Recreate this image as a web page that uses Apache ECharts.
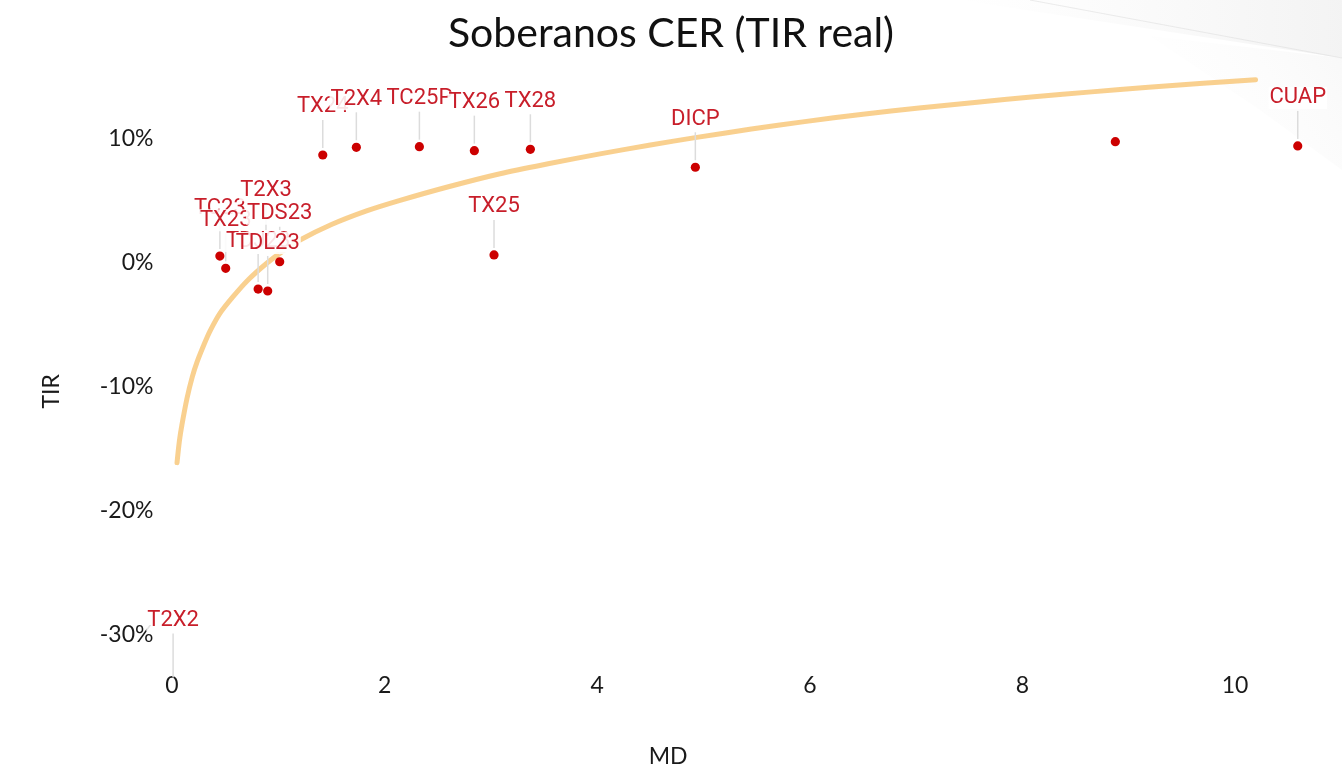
<!DOCTYPE html>
<html>
<head>
<meta charset="utf-8">
<script src="https://cdn.jsdelivr.net/npm/echarts@6/dist/echarts.min.js"></script>
<style>
html,body{margin:0;padding:0;background:#fff;}
#chart{width:1342px;height:768px;}
</style>
</head>
<body>
<div id="chart"></div>
<script>
// ---- data ----
const bondNames = ['T2X2','TC23','TX23','TDJ23','T2X3','TDL23','TDS23','TX24','T2X4','TC25P','TX25','TX26','TX28','DICP','','CUAP'];
const bondMD    = [0.01, 0.45, 0.505, 0.81, 0.884, 0.90, 1.013, 1.418, 1.734, 2.327, 3.029, 2.844, 3.371, 4.923, 8.874, 10.59];
const bondTIR   = [-0.34, 0.0056, -0.0043, -0.021, 0.020, -0.0226, 0.001, 0.0871, 0.0933, 0.0938, 0.0065, 0.0906, 0.0917, 0.0772, 0.0978, 0.0944];

// trend curve (MD, TIR)
const curveMD  = [0.047, 0.070, 0.094, 0.141, 0.190, 0.235, 0.300, 0.357, 0.452, 0.574, 0.715, 0.894, 1.050, 1.204, 1.500, 1.830, 2.145, 2.600, 3.086, 3.550, 4.026, 4.500, 4.936, 5.450, 5.951, 6.500, 7.027, 7.550, 8.109, 8.650, 9.186, 9.700, 10.193];
const curveTIR = [-0.161, -0.143, -0.130, -0.109, -0.092, -0.080, -0.066, -0.055, -0.0405, -0.0272, -0.0137, 0.0, 0.010, 0.0185, 0.031, 0.042, 0.0505, 0.0615, 0.072, 0.0802, 0.088, 0.0952, 0.1013, 0.108, 0.114, 0.120, 0.125, 0.1295, 0.134, 0.138, 0.1417, 0.145, 0.1478];

const xTicks = [0, 2, 4, 6, 8, 10];
const yTicks = [-0.3, -0.2, -0.1, 0, 0.1];

const titleText = 'Soberanos CER (TIR real)';
const xName = 'MD';
const yName = 'TIR';

// ---- chart ----
const chart = echarts.init(document.getElementById('chart'));

const bondData = bondMD.map((m, i) => [m, bondTIR[i]]);
const curveData = curveMD.map((m, i) => [m, curveTIR[i]]);

function renderBond(params, api) {
  const idx = params.dataIndex;
  const p = api.coord([api.value(0), api.value(1)]);
  const cs = params.coordSys;
  const bottom = cs.y + cs.height;
  const inside = p[1] <= bottom + 0.5 && p[1] >= cs.y - 0.5;
  const children = [];
  if (inside) {
    children.push({type: 'circle', shape: {cx: p[0], cy: p[1], r: 4.6}, style: {fill: '#cc0000'}, z2: 1});
  }
  const name = bondNames[idx];
  if (name) {
    const ly = Math.min(p[1], bottom) - 48;
    children.push({type: 'line', shape: {x1: p[0], y1: ly + 13, x2: p[0], y2: p[1] - 7},
      style: {stroke: '#dcdcdc', lineWidth: 1.5}, z2: 2});
    children.push({type: 'text', x: p[0], y: ly, z2: 100 + idx,
      style: {text: name, fill: '#c81e2a', fontSize: 22, fontFamily: 'Roboto',
        align: 'center', verticalAlign: 'middle',
        backgroundColor: 'rgba(255,255,255,0.88)', padding: [0, 1]}});
  }
  return {type: 'group', children};
}

const axisFont = {fontFamily: 'Lato', fontSize: 23, color: '#1a1a1a'};

chart.setOption({
  animation: false,
  backgroundColor: '#ffffff',
  title: {
    text: titleText, left: 'center', top: 8,
    textStyle: {fontFamily: 'Lato', fontSize: 41, fontWeight: 'normal', color: '#111'}
  },
  graphic: [
    {type: 'polygon', silent: true, z: -10,
      shape: {points: [[960, 0], [1342, 0], [1342, 58]]},
      style: {fill: new echarts.graphic.LinearGradient(0, 0, 1, 0, [
        {offset: 0, color: 'rgba(246,246,246,0)'}, {offset: 1, color: 'rgba(242,242,242,0.9)'}])}},
    {type: 'polygon', silent: true, z: -10,
      shape: {points: [[1150, 36], [1342, 58], [1342, 170], [1260, 110]]},
      style: {fill: new echarts.graphic.LinearGradient(1, 0, 0, 1, [
        {offset: 0, color: 'rgba(246,246,246,0.8)'}, {offset: 1, color: 'rgba(255,255,255,0)'}])}},
    {type: 'line', silent: true, z: -9,
      shape: {x1: 1030, y1: 0, x2: 1342, y2: 58},
      style: {stroke: 'rgba(220,220,220,0.55)', lineWidth: 1}}
  ],
  grid: {left: 161.4, right: 11.3, top: 64, bottom: 99.5, containLabel: false, outerBoundsMode: 'none'},
  xAxis: {
    type: 'value', min: -0.1, max: 10.9,
    name: xName, nameLocation: 'middle', nameGap: 77,
    nameTextStyle: Object.assign({}, axisFont, {padding: [0, 156, 0, 0]}),
    axisLine: {show: false}, axisTick: {show: false}, splitLine: {show: false},
    axisLabel: Object.assign({}, axisFont, {customValues: xTicks, margin: 6, formatter: v => String(Math.round(v))})
  },
  yAxis: {
    type: 'value', min: -0.32702, max: 0.16048,
    name: yName, nameLocation: 'middle', nameGap: 98, nameRotate: 90,
    nameTextStyle: Object.assign({}, axisFont, {padding: [0, 50, 0, 0]}),
    axisLine: {show: false}, axisTick: {show: false}, splitLine: {show: false},
    axisLabel: Object.assign({}, axisFont, {customValues: yTicks, margin: 8, formatter: v => Math.round(v * 100) + '%'})
  },
  series: [
    {type: 'line', data: curveData, smooth: 0.3, showSymbol: false, symbol: 'none', z: 1,
      lineStyle: {color: 'rgba(247,190,100,0.72)', width: 5, cap: 'round'}, silent: true},
    {type: 'custom', data: bondData, renderItem: renderBond, z: 3, silent: true}
  ]
});
</script>
</body>
</html>
